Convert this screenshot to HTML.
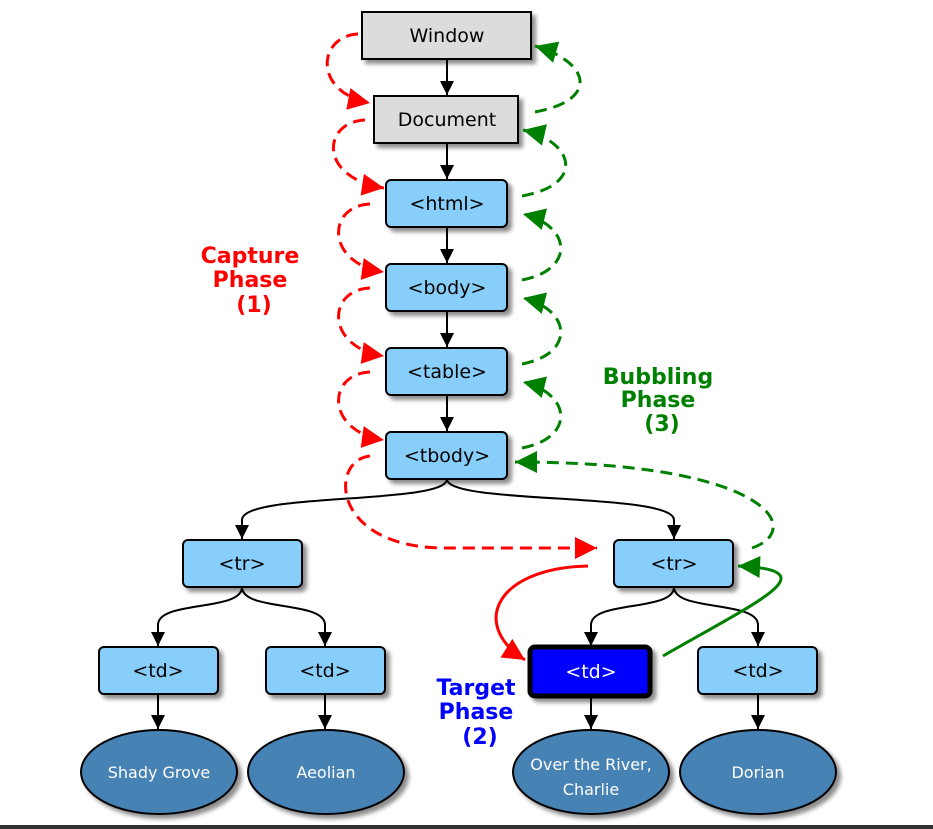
<!DOCTYPE html>
<html><head><meta charset="utf-8"><style>
html,body{margin:0;padding:0;background:#fff;}
svg{display:block;}
text{font-family:"DejaVu Sans","Liberation Sans",sans-serif;}
</style></head><body>
<svg width="933" height="829" viewBox="0 0 933 829" xmlns="http://www.w3.org/2000/svg">
<defs>
<filter id="sh" x="-20%" y="-20%" width="150%" height="160%"><feGaussianBlur in="SourceAlpha" stdDeviation="2"/><feOffset dx="4" dy="4"/><feComponentTransfer><feFuncA type="linear" slope="0.45"/></feComponentTransfer><feMerge><feMergeNode/><feMergeNode in="SourceGraphic"/></feMerge></filter>
<marker id="bk" viewBox="0 0 10 10" refX="10" refY="5" markerUnits="userSpaceOnUse" markerWidth="14" markerHeight="14" orient="auto"><path d="M0,0 L10,5 L0,10z" fill="#000"/></marker>
<marker id="rd" viewBox="0 0 10 10" refX="10" refY="5" markerUnits="userSpaceOnUse" markerWidth="24" markerHeight="22" orient="auto"><path d="M0,0 L10,5 L0,10z" fill="#f00"/></marker>
<marker id="gr" viewBox="0 0 10 10" refX="10" refY="5" markerUnits="userSpaceOnUse" markerWidth="24" markerHeight="22" orient="auto"><path d="M0,0 L10,5 L0,10z" fill="#008000"/></marker>
</defs>

<!-- black edges -->
<g stroke="#000" stroke-width="2" fill="none" marker-end="url(#bk)">
<path d="M447,59 L447,95"/>
<path d="M447,143 L447,179"/>
<path d="M447,227 L447,263"/>
<path d="M447,311 L447,347"/>
<path d="M447,395 L447,431"/>
<path d="M447,479 C447,505 242,492 242,520 L242,539"/>
<path d="M447,479 C447,505 674,492 674,520 L674,539"/>
<path d="M242,587 C242,612 158,600 158,625 L158,646"/>
<path d="M242,587 C242,612 325,600 325,625 L325,646"/>
<path d="M674,587 C674,612 591,600 591,625 L591,646"/>
<path d="M674,587 C674,612 758,600 758,625 L758,646"/>
<path d="M158,694 L158,729"/>
<path d="M325,694 L325,729"/>
<path d="M591,697 L591,729"/>
<path d="M758,694 L758,729"/>
</g>

<!-- nodes -->
<g filter="url(#sh)" stroke="#000" stroke-width="2">
<rect x="362" y="12" width="169" height="47" fill="#dcdcdc"/>
<rect x="374" y="96" width="144" height="47" fill="#dcdcdc"/>
<rect x="386" y="180" width="121" height="47" rx="5" fill="#87cefa"/>
<rect x="386" y="264" width="121" height="47" rx="5" fill="#87cefa"/>
<rect x="386" y="348" width="121" height="47" rx="5" fill="#87cefa"/>
<rect x="386" y="432" width="121" height="47" rx="5" fill="#87cefa"/>
<rect x="183" y="540" width="119" height="47" rx="5" fill="#87cefa"/>
<rect x="614" y="540" width="119" height="47" rx="5" fill="#87cefa"/>
<rect x="99" y="647" width="119" height="47" rx="5" fill="#87cefa"/>
<rect x="266" y="647" width="119" height="47" rx="5" fill="#87cefa"/>
<rect x="530" y="647" width="120" height="49" rx="5" fill="#0000ff" stroke-width="5"/>
<rect x="698" y="647" width="119" height="47" rx="5" fill="#87cefa"/>
<ellipse cx="159" cy="772" rx="78" ry="42" fill="#4682b4"/>
<ellipse cx="326" cy="772" rx="78" ry="42" fill="#4682b4"/>
<ellipse cx="591" cy="772" rx="78" ry="42" fill="#4682b4"/>
<ellipse cx="758" cy="772" rx="78" ry="42" fill="#4682b4"/>
</g>

<g font-size="19" text-anchor="middle" fill="#000">
<text x="447" y="42">Window</text>
<text x="447" y="126">Document</text>
<text x="447" y="210">&lt;html&gt;</text>
<text x="447" y="294">&lt;body&gt;</text>
<text x="447" y="378">&lt;table&gt;</text>
<text x="447" y="462">&lt;tbody&gt;</text>
<text x="242" y="570">&lt;tr&gt;</text>
<text x="674" y="570">&lt;tr&gt;</text>
<text x="158" y="677">&lt;td&gt;</text>
<text x="325" y="677">&lt;td&gt;</text>
<text x="591" y="678" fill="#fff">&lt;td&gt;</text>
<text x="758" y="677">&lt;td&gt;</text>
</g>
<g font-size="16" text-anchor="middle" fill="#fff">
<text x="159" y="778">Shady Grove</text>
<text x="326" y="778">Aeolian</text>
<text x="591" y="770">Over the River,</text>
<text x="591" y="795">Charlie</text>
<text x="758" y="778">Dorian</text>
</g>

<!-- red capture -->
<g stroke="#f00" stroke-width="3" fill="none" stroke-dasharray="12,7" marker-end="url(#rd)">
<path d="M358,34 C318,36 312,92 370,103"/>
<path d="M365,120 C322,122 318,178 384,188"/>
<path d="M370,204 C326,206 326,264 384,272"/>
<path d="M370,288 C326,290 326,348 384,356"/>
<path d="M370,372 C326,374 326,432 384,440"/>
<path d="M370,456 C330,460 330,545 440,548 L597,548"/>
</g>
<path d="M588,566 C495,568 470,625 525,660" stroke="#f00" stroke-width="3" fill="none" marker-end="url(#rd)"/>

<!-- green bubbling -->
<g stroke="#008000" stroke-width="3" fill="none" stroke-dasharray="12,7" marker-end="url(#gr)">
<path d="M535,112 C600,100 590,62 535,46"/>
<path d="M522,196 C585,185 575,142 523,130"/>
<path d="M522,280 C575,270 572,226 523,214"/>
<path d="M522,364 C575,354 572,310 523,298"/>
<path d="M522,448 C575,438 572,394 523,382"/>
<path d="M752,548 C805,530 770,462 515,462"/>
</g>
<path d="M663,656 C760,600 830,570 738,566" stroke="#008000" stroke-width="3" fill="none" marker-end="url(#gr)"/>

<g font-size="22" font-weight="bold" text-anchor="middle">
<text x="250" y="263" fill="#f00">Capture</text>
<text x="250" y="287" fill="#f00">Phase</text>
<text x="254" y="312" fill="#f00">(1)</text>
<text x="658" y="384" fill="#008000">Bubbling</text>
<text x="658" y="407" fill="#008000">Phase</text>
<text x="662" y="431" fill="#008000">(3)</text>
<text x="476" y="695" fill="#00f">Target</text>
<text x="476" y="719" fill="#00f">Phase</text>
<text x="480" y="744" fill="#00f">(2)</text>
</g>
<rect x="0" y="825" width="933" height="4" fill="#333"/>
</svg>
</body></html>
